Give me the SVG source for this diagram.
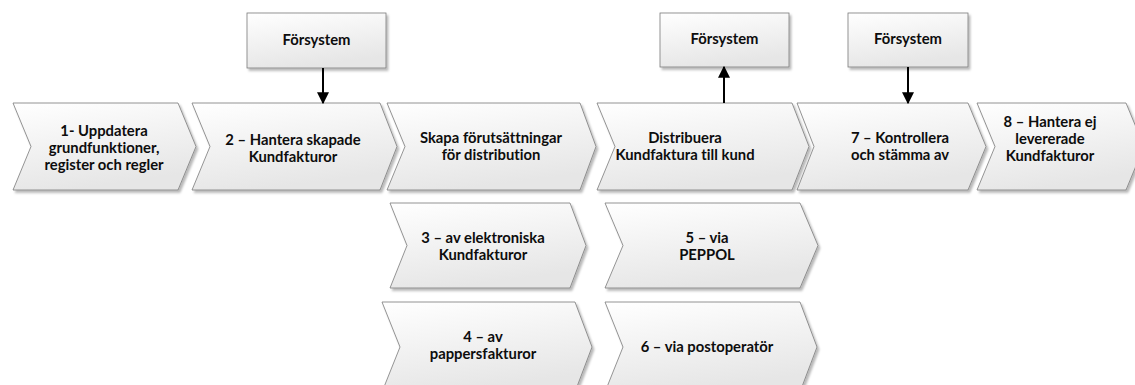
<svg xmlns="http://www.w3.org/2000/svg" width="1135" height="385" viewBox="0 0 1135 385">
<defs>
<linearGradient id="fill" x1="0" y1="0" x2="0.3" y2="1">
<stop offset="0" stop-color="#ffffff"/>
<stop offset="1" stop-color="#e6e6e6"/>
</linearGradient>
<filter id="sh" x="-10%" y="-10%" width="125%" height="130%">
<feDropShadow dx="2" dy="2.5" stdDeviation="1.3" flood-color="#000" flood-opacity="0.28"/>
</filter>
<marker id="ah" viewBox="0 0 10 10" refX="9" refY="5" markerWidth="6" markerHeight="6" markerUnits="strokeWidth" orient="auto">
<path d="M0,0 L10,5 L0,10 Z" fill="#000"/>
</marker>
</defs>
<style>
.shape{fill:url(#fill);stroke:#7a7a7a;stroke-width:0.8;filter:url(#sh);}
.t{font-family:Lato,"Liberation Sans",sans-serif;font-weight:700;font-size:14.8px;fill:#0d0d0d;text-anchor:middle;font-variant-ligatures:none;font-feature-settings:"liga" 0;}
.conn{stroke:#000;stroke-width:2;fill:none;marker-end:url(#ah);}
</style>
<rect width="1135" height="385" fill="#ffffff"/>

<g id="c1">
<polygon class="shape" points="13,103 178,103 196,146.5 178,190 13,190 31,146.5"/>
<text class="t" x="104" y="136">1- Uppdatera</text>
<text class="t" x="104" y="153">grundfunktioner,</text>
<text class="t" x="104" y="170">register och regler</text>
</g>
<g id="c2">
<polygon class="shape" points="192,103 380,103 397,146.5 380,190 192,190 210,146.5"/>
<text class="t" x="293" y="145">2 – Hantera skapade</text>
<text class="t" x="293" y="162">Kundfakturor</text>
</g>
<g id="c3">
<polygon class="shape" points="387,103 580,103 596,146.5 580,190 387,190 405,146.5"/>
<text class="t" x="491" y="143">Skapa förutsättningar</text>
<text class="t" x="491" y="160">för distribution</text>
</g>
<g id="c4">
<polygon class="shape" points="597,103 792,103 809,146.5 792,190 597,190 615,146.5"/>
<text class="t" x="685" y="143">Distribuera</text>
<text class="t" x="685" y="160">Kundfaktura till kund</text>
</g>
<g id="c5">
<polygon class="shape" points="797,103 968,103 986,146.5 968,190 797,190 814,146.5"/>
<text class="t" x="900" y="143">7 – Kontrollera</text>
<text class="t" x="900" y="160">och stämma av</text>
</g>
<g id="c6">
<polygon class="shape" points="977,103 1126,103 1144,146.5 1126,190 977,190 995,146.5"/>
<text class="t" x="1050" y="127">8 – Hantera ej</text>
<text class="t" x="1050" y="144">levererade</text>
<text class="t" x="1050" y="161">Kundfakturor</text>
</g>

<g id="c3a">
<polygon class="shape" points="390,203 570,203 586,245.5 570,288 390,288 407,245.5"/>
<text class="t" x="483" y="243">3 – av elektroniska</text>
<text class="t" x="483" y="260">Kundfakturor</text>
</g>
<g id="c5a">
<polygon class="shape" points="605,203 800,203 818,245.5 800,288 605,288 623,245.5"/>
<text class="t" x="707" y="243">5 – via</text>
<text class="t" x="707" y="260">PEPPOL</text>
</g>
<g id="c4a">
<polygon class="shape" points="382,302 575,302 592,347 575,392 382,392 400,347"/>
<text class="t" x="483" y="342">4 – av</text>
<text class="t" x="483" y="359">pappersfakturor</text>
</g>
<g id="c6a">
<polygon class="shape" points="605,302 800,302 817,347 800,392 605,392 623,347"/>
<text class="t" x="707" y="352">6 – via postoperatör</text>
</g>

<g id="f1">
<rect class="shape" x="247" y="13" width="139" height="55"/>
<text class="t" x="316.5" y="45">Försystem</text>
</g>
<g id="f2">
<rect class="shape" x="660" y="13" width="129" height="54"/>
<text class="t" x="724.5" y="44">Försystem</text>
</g>
<g id="f3">
<rect class="shape" x="848" y="13" width="120" height="54"/>
<text class="t" x="908" y="44">Försystem</text>
</g>

<g id="connectors">
<line class="conn" x1="323" y1="68" x2="323" y2="103"/>
<line class="conn" x1="724" y1="103" x2="724" y2="67"/>
<line class="conn" x1="908" y1="67" x2="908" y2="103"/>
</g>
</svg>
